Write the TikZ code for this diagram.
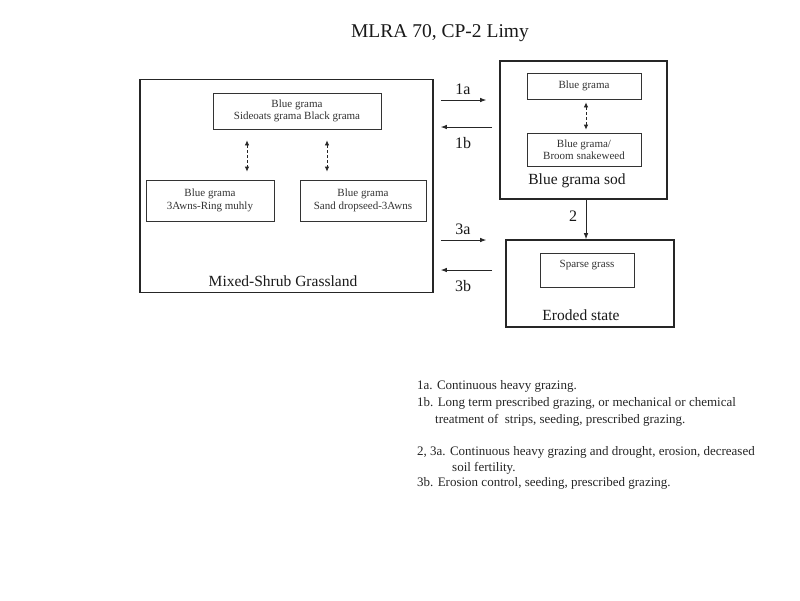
\documentclass[tikz,border=0pt]{standalone}
\usepackage{fontspec}
\setmainfont{Liberation Serif}
\usetikzlibrary{arrows.meta}
\begin{document}
\begin{tikzpicture}[x=1pt,y=-1pt,
  outerbox/.style={draw=black!85, line width=1.7pt, inner sep=0pt},
  innerbox/.style={draw=black!80, line width=0.8pt, inner sep=0pt},
  small/.style={font=\fontsize{11}{12.5}\selectfont, align=center, text=black!80},
  lbl/.style={font=\fontsize{15.5}{18}\selectfont, text=black!90},
  alabel/.style={font=\fontsize{16}{18}\selectfont, text=black!90},
  note/.style={font=\fontsize{13}{15}\selectfont, anchor=base west, inner sep=0pt, text=black!85},
  arr/.style={draw=black!85, line width=0.8pt, -{Latex[length=6pt,width=4.5pt]}},
  dasharr/.style={draw=black!85, line width=0.8pt, densely dashed, {Latex[length=5pt,width=4.5pt]}-{Latex[length=5pt,width=4.5pt]}}
]
\useasboundingbox[fill=white] (0,0) rectangle (800,600);

\node[font=\fontsize{19.5}{22}\selectfont, text=black!90] (title) at (440,33) {MLRA 70, CP-2 Limy};

% outer boxes
\node[outerbox, minimum width=293pt, minimum height=213pt] (msg) at (286.5,186) {};
\node[outerbox, minimum width=167pt, minimum height=138pt] (bgs) at (583.5,130) {};
\node[outerbox, minimum width=168pt, minimum height=87pt] (ero) at (590,283.5) {};

% inner boxes
\node[innerbox, small, minimum width=168pt, minimum height=36pt] (top) at (297,111) {Blue grama\\Sideoats grama Black grama};
\node[innerbox, small, minimum width=128pt, minimum height=41pt] (ll) at (210,200.5) {Blue grama\\3Awns-Ring muhly};
\node[innerbox, small, minimum width=126pt, minimum height=41pt] (lr) at (363,200.5) {Blue grama\\Sand dropseed-3Awns};
\node[innerbox, small, minimum width=114pt, minimum height=26pt] (bgt) at (584,86) {Blue grama};
\node[innerbox, small, minimum width=114pt, minimum height=33pt] (bgl) at (584,149.5) {Blue grama/\\Broom snakeweed};
\node[innerbox, minimum width=94pt, minimum height=34pt] (sp) at (587,270) {};
\node[small] (sptext) at (587,265) {Sparse grass};

% box labels
\node[lbl] (msgl) at (283,281) {Mixed-Shrub Grassland};
\node[lbl] (bgsl) at (577,181) {Blue grama sod};
\node[lbl] (erol) at (581,315) {Eroded state};

% dashed double arrows
\draw[dasharr, shorten <=11pt, shorten >=8pt] ([xshift=-50pt]top.south) -- ([xshift=-50pt]top.south |- ll.north);
\draw[dasharr, shorten <=11pt, shorten >=8pt] ([xshift=30pt]top.south) -- ([xshift=30pt]top.south |- lr.north);
\draw[dasharr, shorten <=3pt, shorten >=3pt] ([xshift=2pt]bgt.south) -- ([xshift=2pt]bgl.north);

% transitions
\draw[arr, shorten <=7pt, shorten >=13pt] (msg.east |- 0,100) -- (bgs.west |- 0,100);
\draw[arr, shorten <=7pt, shorten >=7pt] (bgs.west |- 0,127) -- (msg.east |- 0,127);
\draw[arr, shorten <=7pt, shorten >=19pt] (msg.east |- 0,240) -- (ero.west |- 0,240);
\draw[arr, shorten <=13pt, shorten >=7pt] (ero.west |- 0,270) -- (msg.east |- 0,270);
\draw[arr] ([xshift=2.5pt]bgs.south) -- ([xshift=2.5pt]bgs.south |- ero.north);

\node[alabel] (l1a) at (463,89) {1a};
\node[alabel] (l1b) at (463,143) {1b};
\node[alabel] (l3a) at (463,229) {3a};
\node[alabel] (l3b) at (463,286) {3b};
\node[alabel] (l2) at (573,216) {2};

% notes
\node[note] (n1) at (417,389) {1a. Continuous heavy grazing.};
\node[note] (n2) at (417,406) {1b. Long term prescribed grazing, or mechanical or chemical};
\node[note] (n3) at (435,423) {treatment of\ \ strips, seeding, prescribed grazing.};
\node[note] (n4) at (417,455) {2, 3a. Continuous heavy grazing and drought, erosion, decreased};
\node[note] (n5) at (452,471) {soil fertility.};
\node[note] (n6) at (417,486) {3b. Erosion control, seeding, prescribed grazing.};
\end{tikzpicture}
\end{document}
